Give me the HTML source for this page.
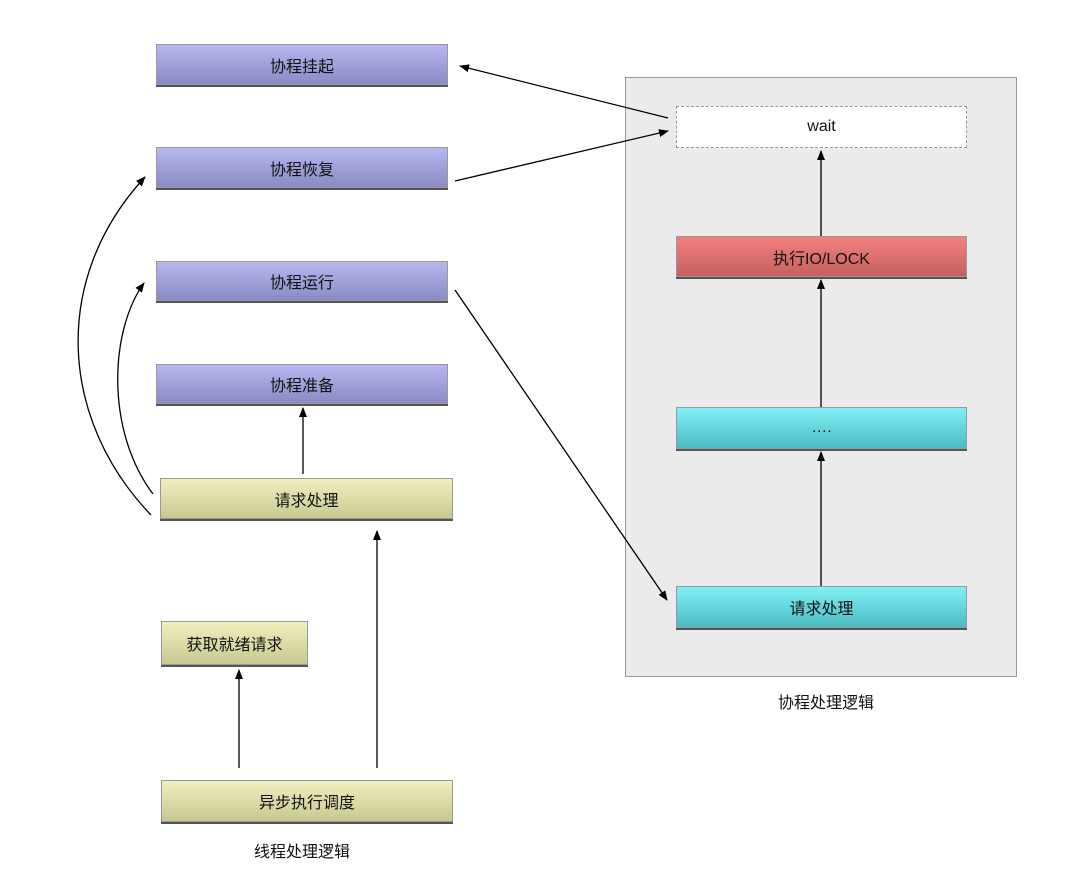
<!DOCTYPE html>
<html><head><meta charset="utf-8"><style>
body{margin:0;background:#fff;width:1080px;height:891px;position:relative;overflow:hidden;font-family:"Liberation Sans","Noto Sans CJK SC",sans-serif;}
.b{position:absolute;box-sizing:border-box;border:1px solid #999;display:flex;align-items:center;justify-content:center;font-size:16px;color:#111;box-shadow:0 2px 0 #555;}
.p{background:linear-gradient(#b8b8f0,#8a8ac4);}
.y{background:linear-gradient(#f0f0c0,#c8c890);}
.c{background:linear-gradient(#80f0f4,#4cbcc4);}
.r{background:linear-gradient(#f48080,#c46060);}
.l{position:absolute;font-size:16px;color:#111;}
</style></head><body>
<div style="position:absolute;left:625px;top:77px;width:392px;height:600px;background:#ebebeb;border:1px solid #999;box-sizing:border-box"></div>
<div class="b p" style="left:156px;top:44px;width:292px;height:41px">协程挂起</div>
<div class="b p" style="left:156px;top:147px;width:292px;height:41px">协程恢复</div>
<div class="b p" style="left:156px;top:261px;width:292px;height:40px">协程运行</div>
<div class="b p" style="left:156px;top:364px;width:292px;height:40px">协程准备</div>
<div class="b y" style="left:160px;top:478px;width:293px;height:41px">请求处理</div>
<div class="b y" style="left:161px;top:621px;width:147px;height:44px">获取就绪请求</div>
<div class="b y" style="left:161px;top:780px;width:292px;height:42px">异步执行调度</div>
<div class="b" style="left:676px;top:106px;width:291px;height:42px;background:#fff;border:1px dashed #999;box-shadow:none">wait</div>
<div class="b r" style="left:676px;top:236px;width:291px;height:41px">执行IO/LOCK</div>
<div class="b c" style="left:676px;top:407px;width:291px;height:42px">….</div>
<div class="b c" style="left:676px;top:586px;width:291px;height:42px">请求处理</div>
<div class="l" style="left:778px;top:689px">协程处理逻辑</div>
<div class="l" style="left:254px;top:838px">线程处理逻辑</div>
<svg width="1080" height="891" style="position:absolute;left:0;top:0">
<defs><marker id="a" markerWidth="10" markerHeight="8" refX="9" refY="4" orient="auto" markerUnits="userSpaceOnUse"><path d="M0,0L10,4L0,8z" fill="#000"/></marker></defs>
<g stroke="#000" stroke-width="1.3" fill="none" marker-end="url(#a)">
<line x1="668" y1="118" x2="460" y2="66"/>
<line x1="455" y1="181" x2="668" y2="131"/>
<line x1="821" y1="236" x2="821" y2="151"/>
<line x1="821" y1="407" x2="821" y2="280"/>
<line x1="821" y1="586" x2="821" y2="452"/>
<line x1="455" y1="290" x2="667" y2="600"/>
<line x1="303" y1="474" x2="303" y2="408"/>
<line x1="239" y1="768" x2="239" y2="670"/>
<line x1="377" y1="768" x2="377" y2="531"/>
<path d="M151,515 C60,420 50,280 145,177"/>
<path d="M153,494 C105,430 110,330 144,283"/>
</g></svg>
</body></html>
